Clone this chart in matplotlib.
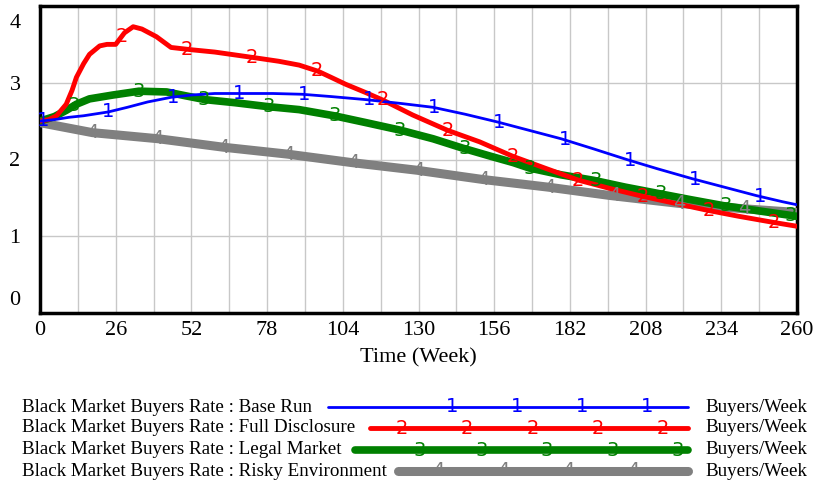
import numpy as np
import matplotlib
matplotlib.use("Agg")
from matplotlib import pyplot as plt
from matplotlib.transforms import ScaledTranslation

# Black Market Buyers Rate (Buyers/Week) per scenario
t_base = [0, 5, 10, 15, 23.5, 30, 37, 45, 52, 60, 68, 80, 90, 100, 112, 124, 135,
          146, 157, 168, 179, 190, 201.5, 212, 224, 235, 246, 255, 260]
base_run = [2.50, 2.52, 2.55, 2.57, 2.62, 2.68, 2.75, 2.81, 2.84, 2.86, 2.86, 2.86,
            2.85, 2.82, 2.78, 2.73, 2.68, 2.59, 2.49, 2.38, 2.27, 2.14, 2.00, 1.88,
            1.75, 1.64, 1.53, 1.45, 1.41]

t_full = [0, 3, 5.7, 9, 11, 12.5, 15, 17, 20.5, 23, 26, 29, 32, 35, 40, 45, 52, 60,
          73, 82, 89, 95.5, 100, 105, 112, 118, 128, 140, 151, 162.5, 174, 185, 196,
          207, 218, 229, 240, 252, 260]
full_disclosure = [2.50, 2.52, 2.57, 2.72, 2.90, 3.07, 3.25, 3.37, 3.48, 3.50, 3.50,
                   3.65, 3.73, 3.70, 3.60, 3.46, 3.43, 3.40, 3.33, 3.28, 3.23, 3.15,
                   3.07, 2.98, 2.87, 2.77, 2.58, 2.38, 2.23, 2.04, 1.88, 1.73, 1.62,
                   1.52, 1.43, 1.34, 1.26, 1.18, 1.13]

t_legal = [0, 5, 9, 12.5, 17, 25, 34, 43.5, 50, 56.7, 67, 78, 89, 101, 112, 124, 135,
           145, 155, 162.5, 168, 179, 190, 201, 212, 223, 234.5, 247, 260]
legal_market = [2.50, 2.56, 2.64, 2.72, 2.79, 2.84, 2.89, 2.88, 2.83, 2.78, 2.74, 2.69,
                2.65, 2.57, 2.48, 2.38, 2.27, 2.15, 2.04, 1.96, 1.89, 1.80, 1.73, 1.64,
                1.56, 1.48, 1.40, 1.33, 1.26]

t_risky = [0, 18, 40.7, 63, 85, 107, 129.5, 152, 174.5, 196, 219, 241, 260]
risky_env = [2.48, 2.35, 2.27, 2.16, 2.07, 1.96, 1.86, 1.74, 1.64, 1.53, 1.43, 1.36, 1.31]

series = [
    # name, t, values, color, width, marker label, first marker week
    ("Base Run", t_base, base_run, "#0000ff", 2.0, "1", 1.0),
    ("Full Disclosure", t_full, full_disclosure, "#ff0000", 3.5, "2", 28.0),
    ("Legal Market", t_legal, legal_market, "#008000", 5.5, "3", 11.5),
    ("Risky Environment", t_risky, risky_env, "#808080", 6.5, "4", 18.0),
]
marker_step = 22.4

xticks = list(range(0, 261, 26))
yticks = [0, 1, 2, 3, 4]

W, H = 818, 483
fig = plt.figure(figsize=(W / 100, H / 100), dpi=100)
serif = "Liberation Serif"

ax = fig.add_axes([40 / W, 1 - 313 / H, 757 / W, 307 / H])
ax.set_xlim(0, 260)
ax.set_ylim(0, 3.99)

for name, t, v, c, lw, lab, start in reversed(series):
    ax.plot(t, v, color=c, lw=lw, solid_capstyle="round", zorder=3)
for name, t, v, c, lw, lab, start in series:
    for tm in np.arange(start, 260, marker_step):
        ax.text(tm, np.interp(tm, t, v), lab, color=c, fontsize=14,
                ha="center", va="center", zorder=4)

ax.set_xticks(np.arange(0, 261, 13), minor=True)
ax.set_xticks(xticks)
ax.set_xticklabels([str(x) for x in xticks], fontfamily=serif, fontsize=16)
ax.set_yticks(yticks)
ax.set_yticklabels([str(y) for y in yticks], fontfamily=serif, fontsize=16)
ax.grid(True, which="both", color="#c8c8c8", lw=1, zorder=0)
ax.tick_params(which="both", length=0, pad=6)
ax.tick_params(axis="y", pad=14)
for s in ax.spines.values():
    s.set_linewidth(2.5)
ax.set_xlabel("Time (Week)", fontfamily=serif, fontsize=16, labelpad=6)

# keep the end labels of the value axis inside the frame
ylabels = ax.get_yticklabels()
ylabels[0].set_transform(ylabels[0].get_transform() + ScaledTranslation(0, 0.15, fig.dpi_scale_trans))
ylabels[-1].set_transform(ylabels[-1].get_transform() + ScaledTranslation(0, -0.15, fig.dpi_scale_trans))

# legend rows drawn in pixel space under the plot
lg = fig.add_axes([0, 0, 1, 100 / H])
lg.set_xlim(0, W)
lg.set_ylim(483, 383)
lg.axis("off")
row_y = [407, 428, 450, 471]
line_start = [328, 370, 355, 398]
leg_marks = [[452, 517, 582, 647], [402, 467, 533, 598, 663],
             [420, 482, 547, 613, 678], [438, 503, 568, 633]]
for (name, t, v, c, lw, lab, start), y, x0, marks in zip(series, row_y, line_start, leg_marks):
    lg.text(22, y, "Black Market Buyers Rate : " + name, fontfamily=serif,
            fontsize=13.7, ha="left", va="center")
    lg.plot([x0, 688], [y, y], color=c, lw=lw, solid_capstyle="round")
    for mx in marks:
        lg.text(mx, y, lab, color=c, fontsize=14, ha="center", va="center")
    lg.text(705, y, "Buyers/Week", fontfamily=serif, fontsize=13.7, ha="left", va="center")

fig.savefig("out.png", dpi=100)
